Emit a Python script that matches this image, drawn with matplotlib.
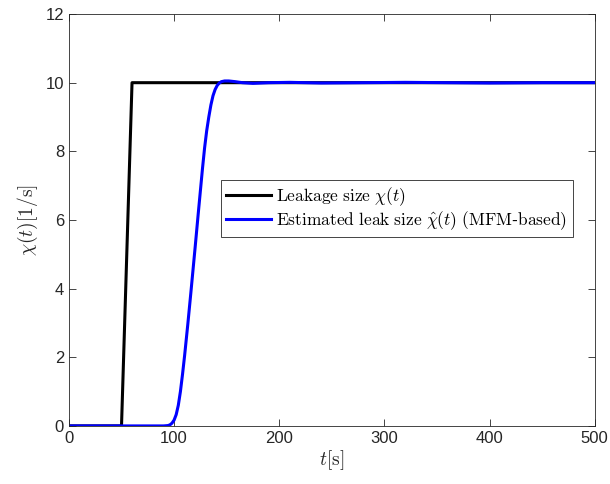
import matplotlib
matplotlib.use("Agg")
import matplotlib.pyplot as plt

# leak size (true)
t_true = [0, 50, 60, 500]
chi_true = [0, 0, 10, 10]

# estimated leak size (MFM-based)
t_est = [0, 60, 90, 94, 96, 98, 100, 102, 104, 106, 108, 110, 113, 116, 118,
         120, 123, 125, 127, 129, 131, 133, 135, 137, 139, 141, 143, 145, 148,
         152, 158, 165, 175, 190, 210, 240, 280, 320, 360, 400, 450, 500]
chi_est = [0, 0, 0, 0.01, 0.03, 0.08, 0.17, 0.33, 0.6, 1.0, 1.5, 2.05, 2.95,
           3.9, 4.55, 5.2, 6.2, 6.85, 7.5, 8.1, 8.6, 9.0, 9.35, 9.62, 9.8,
           9.92, 9.99, 10.03, 10.05, 10.05, 10.03, 10.0, 9.98, 10.0, 10.01,
           9.99, 10.0, 10.01, 10.0, 9.99, 10.0, 10.0]

plt.rcParams["mathtext.fontset"] = "cm"
plt.rcParams["font.family"] = ["Liberation Sans", "DejaVu Sans"]

fig = plt.figure(figsize=(6.1, 4.84), dpi=100)
ax = fig.add_axes([0.113, 0.12, 0.862, 0.851])

ax.plot(t_true, chi_true, color="black", lw=2.2,
        label=r"$\mathrm{Leakage\ size\ }\chi(t)$")
ax.plot(t_est, chi_est, color="#0000ff", lw=2.2,
        label=r"$\mathrm{Estimated\ leak\ size\ }\hat{\chi}(t)\ \mathrm{(MFM}$-$\mathrm{based)}$")

ax.set_xlim(0, 500)
ax.set_ylim(0, 12)
ax.set_xticks([0, 100, 200, 300, 400, 500])
ax.set_yticks([0, 2, 4, 6, 8, 10, 12])
ax.tick_params(direction="in", top=True, right=True, labelsize=12,
               colors="#262626", length=5, width=0.6)
for s in ax.spines.values():
    s.set_color("#262626")
    s.set_linewidth(0.6)

ax.set_xlabel(r"$t[\mathrm{s}]$", fontsize=14, color="#262626", labelpad=2)
ax.set_ylabel(r"$\chi(t)[1/\mathrm{s}]$", fontsize=14, color="#262626", labelpad=4)

leg = ax.legend(loc="lower left", bbox_to_anchor=(0.289, 0.458), fontsize=12.5,
                handlelength=2.6, handletextpad=0.3, borderpad=0.3,
                labelspacing=0.1, borderaxespad=0, fancybox=False, framealpha=1)
leg.get_frame().set_edgecolor("#262626")
leg.get_frame().set_linewidth(0.6)

fig.savefig("out.png", dpi=100)
